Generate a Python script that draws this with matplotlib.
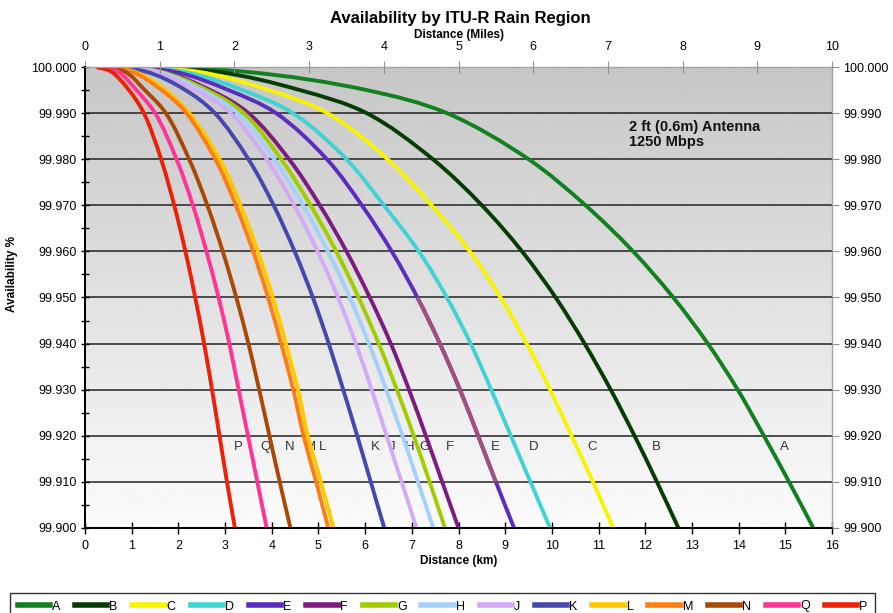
import numpy as np
import matplotlib
matplotlib.use("Agg")
import matplotlib.pyplot as plt
from matplotlib.ticker import MultipleLocator, FormatStrFormatter
from matplotlib.lines import Line2D
from matplotlib.path import Path
from matplotlib.patches import PathPatch

plt.rcParams['font.family'] = ['Liberation Sans', 'DejaVu Sans']

# availability levels (%) at which the distances below were read
avail = [100.000, 99.999, 99.995, 99.990, 99.980, 99.970, 99.960,
         99.950, 99.940, 99.930, 99.920, 99.910, 99.900]

# distance (km) for each ITU-R rain region
dist_a = [0.25, 3.40, 6.03, 7.75, 9.50, 10.72, 11.74, 12.60, 13.34, 13.98, 14.54, 15.08, 15.60]
dist_b = [0.25, 2.80, 4.60, 6.03, 7.45, 8.50, 9.36, 10.08, 10.70, 11.26, 11.77, 12.25, 12.71]
dist_c = [0.25, 2.40, 3.94, 5.19, 6.48, 7.42, 8.24, 8.90, 9.46, 9.96, 10.42, 10.88, 11.31]
dist_d = [0.25, 2.10, 3.37, 4.45, 5.60, 6.40, 7.15, 7.75, 8.26, 8.70, 9.12, 9.54, 9.96]
dist_e = [0.25, 1.90, 3.07, 4.09, 5.18, 5.93, 6.57, 7.12, 7.60, 8.03, 8.42, 8.80, 9.19]
dist_f = [0.25, 1.65, 2.68, 3.50, 4.37, 5.03, 5.60, 6.10, 6.55, 6.94, 7.30, 7.65, 8.00]
dist_g = [0.25, 1.60, 2.61, 3.40, 4.20, 4.83, 5.38, 5.86, 6.29, 6.68, 7.04, 7.38, 7.71]
dist_h = [0.25, 1.55, 2.50, 3.27, 4.05, 4.67, 5.20, 5.67, 6.08, 6.45, 6.80, 7.13, 7.46]
dist_j = [0.25, 1.45, 2.37, 3.12, 3.89, 4.48, 4.98, 5.42, 5.80, 6.14, 6.46, 6.78, 7.10]
dist_k = [0.25, 1.30, 2.15, 2.78, 3.50, 4.04, 4.49, 4.88, 5.22, 5.53, 5.83, 6.12, 6.41]
dist_l = [0.25, 1.05, 1.72, 2.23, 2.88, 3.33, 3.70, 4.02, 4.30, 4.56, 4.77, 5.05, 5.32]
dist_m = [0.25, 1.00, 1.64, 2.17, 2.79, 3.23, 3.60, 3.92, 4.20, 4.46, 4.68, 4.95, 5.21]
dist_n = [0.25, 0.85, 1.28, 1.73, 2.23, 2.62, 2.95, 3.24, 3.50, 3.73, 3.95, 4.17, 4.40]
dist_q = [0.25, 0.70, 1.10, 1.50, 1.96, 2.31, 2.60, 2.86, 3.09, 3.29, 3.49, 3.69, 3.89]
dist_p = [0.25, 0.56, 0.94, 1.26, 1.63, 1.91, 2.15, 2.36, 2.55, 2.72, 2.88, 3.04, 3.21]

regions = ['A', 'B', 'C', 'D', 'E', 'F', 'G', 'H', 'J', 'K', 'L', 'M', 'N', 'Q', 'P']
dists = [dist_a, dist_b, dist_c, dist_d, dist_e, dist_f, dist_g, dist_h,
         dist_j, dist_k, dist_l, dist_m, dist_n, dist_q, dist_p]
colors = ['#12801f', '#053d05', '#f8f400', '#40d2d4', '#5a2dbe', '#7b1c7e',
          '#a2cc00', '#a3d1fb', '#d2aaf8', '#4549ad', '#ffc800', '#ff7e10',
          '#a84a06', '#ff3596', '#ea2308']

# x position (km) of the region letters under the 99.920 line
label_x = [14.99, 12.23, 10.86, 9.60, 8.78, 7.82, 7.28, 6.96, 6.57, 6.21,
           5.08, 4.82, 4.39, 3.86, 3.28]

km_ticks = list(range(0, 17))
mile_ticks = list(range(0, 11))

XMAX, YMIN, YMAX = 16.0, 99.9, 100.0
PX_W, PX_H = 747.0, 461.0


def smooth_path(xs, ys, i0=0, i1=None):
    # smoothed line like Excel: centripetal Catmull-Rom, built in pixel space
    P = np.column_stack([np.asarray(xs) / XMAX * PX_W,
                         (np.asarray(ys) - YMIN) / (YMAX - YMIN) * PX_H])
    n = len(P)
    if i1 is None:
        i1 = n - 1

    def knot(a, b):
        return max(np.hypot(*(b - a)) ** 0.5, 1e-6)

    verts = [P[i0]]
    codes = [Path.MOVETO]
    for i in range(i0, i1):
        p1, p2 = P[i], P[i + 1]
        d1 = knot(p1, p2)
        if i > 0:
            p0 = P[i - 1]
            d0 = knot(p0, p1)
            m1 = (p1 - p0) / d0 - (p2 - p0) / (d0 + d1) + (p2 - p1) / d1
        else:
            m1 = (p2 - p1) / d1
        if i + 2 < n:
            p3 = P[i + 2]
            d2 = knot(p2, p3)
            m2 = (p2 - p1) / d1 - (p3 - p1) / (d1 + d2) + (p3 - p2) / d2
        else:
            m2 = (p2 - p1) / d1
        verts += [p1 + m1 * d1 / 3, p2 - m2 * d1 / 3, p2]
        codes += [Path.CURVE4] * 3
    V = np.array(verts)
    V[:, 0] = V[:, 0] / PX_W * XMAX
    V[:, 1] = V[:, 1] / PX_H * (YMAX - YMIN) + YMIN
    return Path(V, codes)


fig = plt.figure(figsize=(8.93, 6.13), dpi=100)
ax = fig.add_axes([0.0952, 0.1387, 0.8365, 0.752])

# grey gradient plot background
grad = np.linspace(0.78, 0.985, 256).reshape(-1, 1)
ax.imshow(grad, extent=[0, 16, 99.9, 100.0], aspect='auto', cmap='gray',
          vmin=0, vmax=1, origin='upper', zorder=0)

for lv in np.arange(99.91, 99.995, 0.01):
    ax.axhline(lv, color='#222222', lw=1.1, zorder=1)

for name, d, c, lx in zip(regions, dists, colors, label_x):
    ax.add_patch(PathPatch(smooth_path(d, avail), fill=False, edgecolor=c,
                           lw=2.8, zorder=3, capstyle='butt'))
    ax.text(lx, 99.9176, name, ha='center', va='center', fontsize=9.5,
            color='#333333', zorder=2)
    if name == 'E':
        # region E is drawn with a mauve middle section in the original
        ax.add_patch(PathPatch(smooth_path(d, avail, 7, 11), fill=False,
                               edgecolor='#a2507e', lw=2.8, zorder=3,
                               capstyle='butt'))

ax.text(11.65, 99.9885, '2 ft (0.6m) Antenna\n1250 Mbps', fontsize=10.5,
        fontweight='bold', va='top', ha='left', linespacing=1.1, color='#111111')

ax.set_xlim(0, XMAX)
ax.set_ylim(YMIN, YMAX)
ax.set_xticks(km_ticks)
ax.yaxis.set_major_locator(MultipleLocator(0.01))
ax.yaxis.set_minor_locator(MultipleLocator(0.005))
ax.yaxis.set_major_formatter(FormatStrFormatter('%.3f'))
ax.tick_params(axis='x', direction='inout', length=8, width=1, pad=5, labelsize=9)
ax.tick_params(axis='y', which='major', direction='inout', length=6, width=1,
               pad=3, labelsize=9)
ax.tick_params(axis='y', which='minor', direction='inout', length=6, width=1)
ax.set_xlabel('Distance (km)', fontsize=8.5, fontweight='bold', labelpad=2)
ax.set_ylabel('Availability %', fontsize=8.5, fontweight='bold')
ax.yaxis.set_label_coords(-0.09, 0.55)
for s in ['left', 'bottom']:
    ax.spines[s].set_color('black')
    ax.spines[s].set_linewidth(1.2)
for s in ['top', 'right']:
    ax.spines[s].set_color('#a0a0a0')

# top axis in miles
axt = ax.twiny()
axt.set_xlim(0, 10)
axt.set_xticks(mile_ticks)
axt.tick_params(axis='x', direction='inout', length=8, colors='#909090',
                labelcolor='black', labelsize=9, pad=6)
axt.set_xlabel('Distance (Miles)', fontsize=8.5, fontweight='bold', labelpad=2)

# right axis mirrors the availability scale
axr = ax.twinx()
axr.set_ylim(YMIN, YMAX)
axr.yaxis.set_major_locator(MultipleLocator(0.01))
axr.yaxis.set_major_formatter(FormatStrFormatter('%.3f'))
axr.tick_params(axis='y', direction='out', length=5, colors='#909090',
                labelcolor='black', labelsize=9, pad=3)
for a in [axt, axr]:
    a.spines['left'].set_color('black')
    a.spines['left'].set_linewidth(1.2)
    a.spines['bottom'].set_color('black')
    a.spines['bottom'].set_linewidth(1.2)
    a.spines['top'].set_color('#a0a0a0')
    a.spines['right'].set_color('#a0a0a0')

fig.text(0.515, 1 - 18 / 613, 'Availability by ITU-R Rain Region', ha='center',
         va='center', fontsize=12, fontweight='bold')

handles = [Line2D([], [], color=c, lw=4) for c in colors]
leg = fig.legend(handles, regions, loc='upper left', ncol=15, mode='expand',
                 bbox_to_anchor=(0.0112, -0.03, 0.9686, 1 - 593 / 613 + 0.03),
                 fontsize=9, handlelength=2.6, handletextpad=0.15,
                 columnspacing=0.6, frameon=True, fancybox=False,
                 borderaxespad=0, borderpad=0.6)
leg.get_frame().set_edgecolor('black')
leg.get_frame().set_linewidth(1.0)

plt.savefig('out.png', dpi=100)
